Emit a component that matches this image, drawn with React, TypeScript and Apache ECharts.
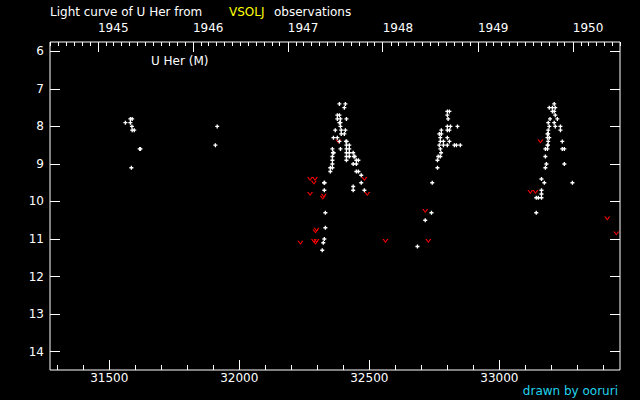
import React, { useEffect, useRef } from "react";
import * as echarts from "echarts";

// Observations: [JD - 2400000, visual magnitude]
const positiveObs: [number, number][] = [
  // 1945-1946
  [31562, 7.9], [31581, 7.8], [31588, 7.8], [31581, 7.9], [31587, 8.0], [31588, 8.1], [31596, 8.1],
  [31617, 8.6], [31620, 8.6], [31585, 9.1], [31915, 8.0], [31908, 8.5],
  // 1947
  [32385, 7.4], [32408, 7.4], [32404, 7.5], [32377, 7.7], [32385, 7.7], [32377, 7.8], [32389, 7.8],
  [32412, 7.8], [32385, 7.9], [32389, 7.9], [32389, 8.0], [32369, 8.1], [32392, 8.1], [32408, 8.1],
  [32392, 8.2], [32404, 8.2], [32362, 8.3], [32377, 8.3], [32385, 8.4], [32410, 8.4], [32413, 8.4],
  [32423, 8.5], [32412, 8.5], [32358, 8.6], [32389, 8.6], [32412, 8.6], [32423, 8.6], [32360, 8.7],
  [32363, 8.7], [32412, 8.7], [32423, 8.7], [32438, 8.7], [32358, 8.8], [32412, 8.8], [32423, 8.8],
  [32441, 8.8], [32444, 8.8], [32358, 8.9], [32412, 8.9], [32450, 8.9], [32458, 8.9], [32358, 9.0],
  [32438, 9.0], [32450, 9.0], [32350, 9.1], [32358, 9.1], [32350, 9.2], [32450, 9.2], [32458, 9.2],
  [32469, 9.3], [32326, 9.5], [32328, 9.5], [32469, 9.5], [32438, 9.6], [32327, 9.7], [32438, 9.7],
  [32481, 9.7], [32331, 10.3], [32331, 10.7], [32327, 11.0], [32323, 11.1], [32319, 11.3],
  // 1948
  [32800, 7.6], [32808, 7.6], [32800, 7.7], [32803, 7.8], [32800, 8.0], [32812, 8.0], [32839, 8.0],
  [32777, 8.1], [32800, 8.1], [32808, 8.1], [32769, 8.2], [32777, 8.2], [32773, 8.3], [32800, 8.3],
  [32773, 8.4], [32785, 8.4], [32808, 8.4], [32769, 8.5], [32785, 8.5], [32800, 8.5], [32827, 8.5],
  [32835, 8.5], [32850, 8.5], [32773, 8.6], [32776, 8.7], [32765, 8.8], [32773, 8.8], [32762, 8.9],
  [32762, 9.1], [32742, 9.5], [32739, 10.3], [32715, 10.5], [32685, 11.2],
  // 1949
  [33211, 7.4], [33192, 7.5], [33204, 7.5], [33215, 7.5], [33204, 7.6], [33211, 7.6], [33215, 7.7],
  [33195, 7.8], [33223, 7.8], [33188, 7.9], [33211, 7.9], [33192, 8.0], [33215, 8.0], [33235, 8.0],
  [33188, 8.1], [33235, 8.1], [33185, 8.2], [33188, 8.2], [33185, 8.3], [33192, 8.3], [33188, 8.4],
  [33242, 8.4], [33185, 8.5], [33187, 8.5], [33177, 8.6], [33185, 8.6], [33242, 8.6], [33250, 8.6],
  [33177, 8.8], [33181, 9.0], [33250, 9.0], [33177, 9.1], [33162, 9.4], [33173, 9.5], [33281, 9.5],
  [33162, 9.7], [33162, 9.8], [33142, 9.9], [33150, 9.9], [33162, 9.9], [33142, 10.3],
];

// Fainter-than estimates
const fainterObs: [number, number][] = [
  [32272, 9.4], [32291, 9.4], [32287, 9.5], [32272, 9.8], [32321, 9.9], [32325, 9.85],
  [32381, 8.4], [32481, 9.4], [32492, 9.8], [32293, 10.8], [32297, 10.75], [32235, 11.1],
  [32287, 11.05], [32293, 11.1], [32297, 11.05], [32562, 11.05],
  [32715, 10.25], [32727, 11.05],
  [33158, 8.4], [33119, 9.75], [33139, 9.75], [33415, 10.45], [33450, 10.85],
];

const jdMajorTicks = [31500, 32000, 32500, 33000];
const jdMinorTicks = [31300, 31400, 31600, 31700, 31800, 31900, 32100, 32200, 32300, 32400,
  32600, 32700, 32800, 32900, 33100, 33200, 33300, 33400];
const magTicks = [6, 7, 8, 9, 10, 11, 12, 13, 14];
const years = [1945, 1946, 1947, 1948, 1949, 1950];

const X_MIN = 31272;
const X_MAX = 33464;

const toJD = (y: number, m: number) => Date.UTC(y, m, 1) / 86400000 + 2440587.5 - 2400000;
const yearTicks = years.map((y) => toJD(y, 0));
const monthTicks: number[] = [];
for (let y = 1944; y <= 1950; y++) {
  for (let m = 0; m < 12; m++) {
    const v = toJD(y, m);
    if (v > X_MIN && v < X_MAX && m !== 0) monthTicks.push(v);
  }
}

const FONT = "DejaVu Sans";
const PLUS = "path://M1,0H2V1H3V2H2V3H1V2H0V1H1Z";
const VEE = "path://M0,0H1.2L2.5,2L3.8,0H5L2.5,3.2Z";

export default function App() {
  const ref = useRef<HTMLDivElement>(null);
  useEffect(() => {
    const chart = echarts.init(ref.current!, null, { renderer: "svg" });
    const baseX = { type: "value", min: X_MIN, max: X_MAX, gridIndex: 0, splitLine: { show: false }, axisLine: { show: false } };
    chart.setOption({
      animation: false,
      backgroundColor: "#000000",
      grid: { left: 50, right: 20, top: 42, bottom: 30, show: true, borderColor: "#ffffff", borderWidth: 1, backgroundColor: "#000000" },
      xAxis: [
        {
          ...baseX, position: "bottom",
          axisTick: { inside: true, length: 10, customValues: jdMajorTicks, lineStyle: { color: "#fff", width: 1 } },
          axisLabel: { customValues: jdMajorTicks, color: "#fff", fontFamily: FONT, fontSize: 12, margin: 2, formatter: (v: number) => String(v) },
        },
        {
          ...baseX, position: "bottom",
          axisTick: { inside: true, length: 5, customValues: jdMinorTicks, lineStyle: { color: "#fff", width: 1 } },
          axisLabel: { show: false },
        },
        {
          ...baseX, position: "top",
          axisTick: { inside: true, length: 10, customValues: yearTicks, lineStyle: { color: "#fff", width: 1 } },
          axisLabel: {
            customValues: yearTicks, color: "#fff", fontFamily: FONT, fontSize: 12, margin: 8, align: "left",
            formatter: (v: number) => {
              const i = yearTicks.findIndex((t) => Math.abs(t - v) < 0.6);
              return i >= 0 ? String(years[i]) : "";
            },
          },
        },
        {
          ...baseX, position: "top",
          axisTick: { inside: true, length: 4, customValues: monthTicks, lineStyle: { color: "#fff", width: 1 } },
          axisLabel: { show: false },
        },
      ],
      yAxis: [
        {
          type: "value", inverse: true, min: 5.75, max: 14.49, position: "left",
          splitLine: { show: false }, axisLine: { show: false },
          axisTick: { inside: true, length: 10, customValues: magTicks, lineStyle: { color: "#fff", width: 1 } },
          axisLabel: { customValues: magTicks, color: "#fff", fontFamily: FONT, fontSize: 12, margin: 6 },
        },
        {
          type: "value", inverse: true, min: 5.75, max: 14.49, position: "right",
          splitLine: { show: false }, axisLine: { show: false },
          axisTick: { inside: true, length: 10, customValues: magTicks, lineStyle: { color: "#fff", width: 1 } },
          axisLabel: { show: false },
        },
      ],
      series: [
        {
          type: "scatter", xAxisIndex: 0, yAxisIndex: 0, data: fainterObs,
          symbol: VEE, symbolSize: [6, 4], itemStyle: { color: "#ff0000", opacity: 1 },
        },
        {
          type: "scatter", xAxisIndex: 0, yAxisIndex: 0, data: positiveObs,
          symbol: PLUS, symbolSize: 4, itemStyle: { color: "#ffffff", opacity: 1 },
        },
      ],
      graphic: [
        { type: "text", x: 50, y: 12, style: { text: "Light curve of U Her from", fill: "#fff", font: `12px '${FONT}'`, verticalAlign: "middle" } },
        { type: "text", x: 229, y: 12, style: { text: "VSOLJ", fill: "#ffff00", font: `12px '${FONT}'`, verticalAlign: "middle" } },
        { type: "text", x: 274, y: 12, style: { text: "observations", fill: "#fff", font: `12px '${FONT}'`, verticalAlign: "middle" } },
        { type: "text", x: 151, y: 61, style: { text: "U Her (M)", fill: "#fff", font: `12px '${FONT}'`, verticalAlign: "middle" } },
        { type: "text", x: 618, y: 391, style: { text: "drawn by ooruri", fill: "#22d3ee", font: `12px '${FONT}'`, verticalAlign: "middle", align: "right" } },
      ],
    });
    return () => chart.dispose();
  }, []);
  return <div ref={ref} style={{ position: "fixed", left: 0, top: 0, width: 640, height: 400, background: "#000" }} />;
}
